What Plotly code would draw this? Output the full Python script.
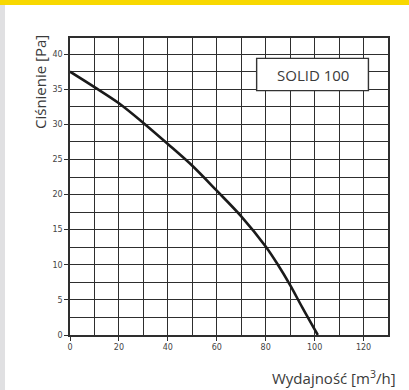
import plotly.graph_objects as go

# Data
flow = [0, 10, 20, 30, 40, 50, 60, 70, 80, 85, 90, 95, 101.3]          # m3/h
pressure = [37.5, 35.3, 33.0, 30.2, 27.2, 24.1, 20.55, 16.9, 12.6, 10.0, 7.1, 3.9, 0]  # Pa
x_ticks = [0, 20, 40, 60, 80, 100, 120]
y_ticks = [0, 5, 10, 15, 20, 25, 30, 35, 40]
label_text = "SOLID 100"
x_title = "Wydajność [m<sup>3</sup>/h]"
y_title = "Ciśnienie [Pa]"

W, H = 409, 390
L, R, T, B = 70, 21, 38, 55
pw, ph = W - L - R, H - T - B

def px_x(p):
    return (p - L) / pw

def px_y(p):
    return 1 - (p - T) / ph

GRID = "#2e2e2e"
TXT = "#3a3a3a"
TICKFONT = dict(family="DejaVu Sans", size=8, color="#444")
TITLEFONT = "Open Sans"

fig = go.Figure()
fig.add_trace(go.Scatter(
    x=flow, y=pressure, mode="lines",
    line=dict(color="#1a1a1a", width=2.6, shape="spline", smoothing=0.9),
    hoverinfo="skip", showlegend=False,
))

fig.update_layout(
    width=W, height=H,
    margin=dict(l=L, r=R, t=T, b=B),
    paper_bgcolor="white", plot_bgcolor="white",
    showlegend=False,
    xaxis=dict(
        range=[0, 130], tickvals=x_ticks, ticks="outside", ticklen=4,
        tickcolor=GRID, tickwidth=1, tickfont=TICKFONT,
        showgrid=True, gridcolor=GRID, gridwidth=1.4,
        minor=dict(dtick=10, tick0=0, showgrid=True, gridcolor=GRID, gridwidth=1.4, ticks=""),
        showline=True, linecolor=GRID, linewidth=1.6, mirror=True,
        zeroline=False, fixedrange=True,
    ),
    yaxis=dict(
        range=[0, 42.3], tickvals=y_ticks, ticks="outside", ticklen=4,
        tickcolor=GRID, tickwidth=1, tickfont=TICKFONT,
        showgrid=True, gridcolor=GRID, gridwidth=1.4,
        minor=dict(dtick=2.5, tick0=0, showgrid=True, gridcolor=GRID, gridwidth=1.4, ticks=""),
        showline=True, linecolor=GRID, linewidth=1.6, mirror=True,
        zeroline=False, fixedrange=True,
    ),
)

# Decorative page elements: yellow top bar and grey left strip
fig.add_shape(type="rect", xref="paper", yref="paper",
              x0=px_x(0), x1=px_x(W), y0=px_y(5), y1=px_y(0),
              fillcolor="#F8D800", line=dict(width=0), layer="below")
fig.add_shape(type="rect", xref="paper", yref="paper",
              x0=px_x(0), x1=px_x(5), y0=px_y(H), y1=px_y(5),
              fillcolor="#E0E0E2", line=dict(width=0), layer="below")

# Label box
fig.add_shape(type="rect", xref="x", yref="y",
              x0=76.3, x1=122, y0=34.8, y1=39.4,
              fillcolor="white", line=dict(color="#333", width=1.4), layer="above")
fig.add_annotation(x=99.15, y=37.1, xref="x", yref="y", text=label_text,
                   showarrow=False, font=dict(family=TITLEFONT, size=15, color=TXT))

# Axis titles
fig.add_annotation(x=px_x(40), y=px_y(82), xref="paper", yref="paper",
                   text=y_title, textangle=-90, showarrow=False,
                   xanchor="center", yanchor="middle",
                   font=dict(family=TITLEFONT, size=15, color=TXT))
fig.add_annotation(x=px_x(398), y=px_y(377), xref="paper", yref="paper",
                   text=x_title, showarrow=False,
                   xanchor="right", yanchor="middle",
                   font=dict(family=TITLEFONT, size=15, color=TXT))

fig.write_html(
    "out.html",
    config={"displayModeBar": False},
    post_script="document.body.style.margin='0';document.body.style.overflow='hidden';",
)
